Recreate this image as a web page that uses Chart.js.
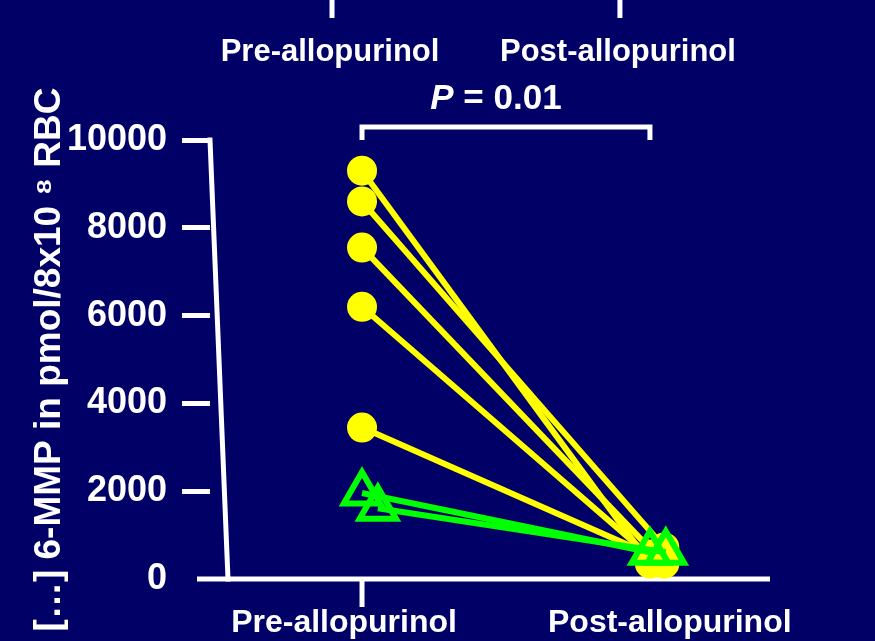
<!DOCTYPE html>
<html>
<head>
<meta charset="utf-8">
<script src="https://cdn.jsdelivr.net/npm/chart.js@4.4.1/dist/chart.umd.min.js"></script>
<style>
  html, body { margin: 0; padding: 0; background: #000066; }
  #wrap { width: 875px; height: 641px; }
</style>
</head>
<body>
<div id="wrap"><canvas id="chart" width="875" height="641"></canvas></div>
<script>
// ── Data ────────────────────────────────────────────
const CATEGORIES = ['Pre-allopurinol', 'Post-allopurinol'];
const Y_TICKS = [0, 2000, 4000, 6000, 8000, 10000];

// yellow circles, one line per patient (pre -> post)
const YELLOW_PRE = [9300, 8600, 7550, 6200, 3450];
const YELLOW_POST = [350, 720, 350, 520, 560];
const YELLOW_POST_X = [1, 1.05, 1.05, 1, 1];

// green triangles
const GREEN_PRE = [1960, 1610];
const GREEN_PRE_X = [0, 0.055];
const GREEN_POST = [610, 610];
const GREEN_POST_X = [1, 1.055];

const P_TEXT = ['P', ' = 0.01'];
const Y_TITLE = '[…] 6-MMP in pmol/8x10 ⁸ RBC';

// ── Style ───────────────────────────────────────────
const NAVY = '#000066';
const YELLOW = '#ffff00';
const GREEN = '#00ff00';
const FONT = 'Liberation Sans, Arial, Helvetica, sans-serif';

Chart.defaults.font.family = FONT;

function yellowSet(i) {
  return {
    data: [
      { x: 0, y: YELLOW_PRE[i] },
      { x: YELLOW_POST_X[i], y: YELLOW_POST[i] },
    ],
    borderColor: YELLOW,
    borderWidth: 6,
    pointRadius: 15,
    pointBackgroundColor: YELLOW,
    pointBorderWidth: 0,
    order: 1,
    clip: false,
  };
}

function greenSet(i) {
  return {
    data: [
      { x: GREEN_PRE_X[i], y: GREEN_PRE[i] },
      { x: GREEN_POST_X[i], y: GREEN_POST[i] },
    ],
    borderColor: GREEN,
    borderWidth: 6,
    pointStyle: 'triangle',
    pointRadius: 21,
    pointBorderWidth: 6,
    pointBorderColor: GREEN,
    pointBackgroundColor: 'rgba(0,0,0,0)',
    order: 0,
    clip: false,
  };
}

// ── Slide decorations (hand drawn axis, bracket, cut-off panel above) ──
const slideDecor = {
  id: 'slideDecor',
  beforeDraw(chart) {
    const { ctx, width, height } = chart;
    ctx.save();
    ctx.fillStyle = NAVY;
    ctx.fillRect(0, 0, width, height);
    ctx.restore();
  },
  beforeDatasetsDraw(chart) {
    const { ctx, chartArea: a, scales: { x } } = chart;
    const x0 = x.getPixelForValue(0);
    ctx.save();
    ctx.strokeStyle = '#fff';
    ctx.lineWidth = 5;
    // y axis leans a bit on the original slide
    ctx.lineCap = 'square';
    ctx.beginPath();
    ctx.moveTo(a.left, a.top);
    ctx.lineTo(a.left + 18, a.bottom);
    ctx.stroke();
    ctx.lineCap = 'butt';
    ctx.beginPath();
    ctx.moveTo(a.left - 13, a.bottom);
    ctx.lineTo(a.right, a.bottom);
    ctx.stroke();
    ctx.beginPath();
    ctx.moveTo(x0, a.bottom);
    ctx.lineTo(x0, a.bottom + 28);
    ctx.stroke();
    ctx.restore();
  },
  afterDraw(chart) {
    const { ctx, chartArea: a, scales: { x } } = chart;
    const x0 = x.getPixelForValue(0);
    const x1 = x.getPixelForValue(1);
    ctx.save();
    ctx.strokeStyle = '#fff';
    ctx.fillStyle = '#fff';
    ctx.lineWidth = 5;

    // significance bracket
    const by = a.top - 13;
    ctx.beginPath();
    ctx.moveTo(x0, a.top);
    ctx.lineTo(x0, by);
    ctx.lineTo(x1, by);
    ctx.lineTo(x1, a.top);
    ctx.stroke();

    ctx.textBaseline = 'middle';
    ctx.textAlign = 'left';
    const italic = `italic bold 35px ${FONT}`;
    const bold = `bold 35px ${FONT}`;
    ctx.font = italic;
    const wP = ctx.measureText(P_TEXT[0]).width;
    ctx.font = bold;
    const wR = ctx.measureText(P_TEXT[1]).width;
    let tx = (x0 + x1) / 2 - 10 - (wP + wR) / 2;
    ctx.font = italic;
    ctx.fillText(P_TEXT[0], tx, 99);
    ctx.font = bold;
    ctx.fillText(P_TEXT[1], tx + wP, 99);

    // bottom of the panel above, cut off by the slide
    ctx.textAlign = 'center';
    ctx.font = `bold 31px ${FONT}`;
    [x0, x1].forEach((px, i) => {
      const tx2 = px - 30;
      ctx.beginPath();
      ctx.moveTo(tx2, 0);
      ctx.lineTo(tx2, 18);
      ctx.stroke();
      ctx.fillText(CATEGORIES[i], tx2 - 2, 52);
    });
    ctx.restore();
  },
};

// ── Chart ───────────────────────────────────────────
const datasets = [
  ...YELLOW_PRE.map((_, i) => yellowSet(i)),
  ...GREEN_PRE.map((_, i) => greenSet(i)),
];

new Chart(document.getElementById('chart'), {
  type: 'line',
  data: { datasets },
  plugins: [slideDecor],
  options: {
    responsive: false,
    animation: false,
    events: [],
    devicePixelRatio: 1,
    layout: { padding: { top: 140, right: 105, bottom: 0, left: 0 } },
    elements: { line: { tension: 0 } },
    plugins: {
      legend: { display: false },
      tooltip: { enabled: false },
    },
    scales: {
      x: {
        type: 'linear',
        min: -0.528,
        max: 1.417,
        afterBuildTicks: (s) => {
          // labels sit a little off the category positions on the slide
          s.ticks = [-0.0625, 1.069].map((v) => ({ value: v }));
        },
        afterFit: (s) => { s.height = 62; },
        grid: { display: false },
        border: { display: false },
        ticks: {
          color: '#fff',
          font: { size: 32, weight: 'bold' },
          padding: 17,
          maxRotation: 0,
          autoSkip: false,
          callback: (v, i) => CATEGORIES[i],
        },
      },
      y: {
        min: 0,
        max: 10000,
        afterBuildTicks: (s) => {
          s.ticks = Y_TICKS.map((v) => ({ value: v }));
        },
        afterFit: (s) => { s.width = 210; },
        border: { display: false },
        grid: {
          drawOnChartArea: false,
          tickLength: 28,
          lineWidth: 5,
          color: (c) => (c.tick && c.tick.value === 0 ? 'rgba(0,0,0,0)' : '#fff'),
        },
        ticks: {
          color: '#fff',
          font: { size: 36, weight: 'bold' },
          padding: 15,
          callback: (v) => String(v),
        },
        title: {
          display: true,
          text: Y_TITLE,
          color: '#fff',
          font: { size: 37, weight: 'bold' },
          padding: { top: 28, bottom: 0 },
        },
      },
    },
  },
});
</script>
</body>
</html>
